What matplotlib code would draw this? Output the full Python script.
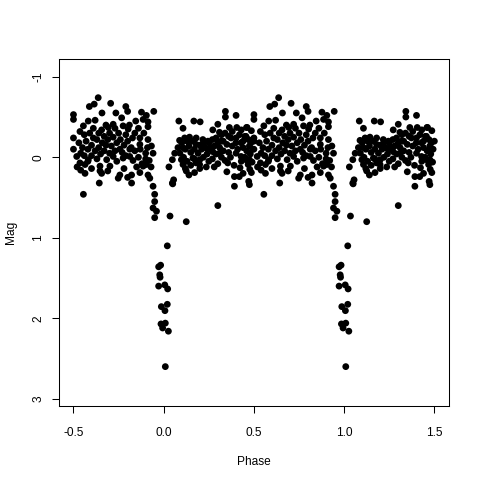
import matplotlib
matplotlib.use("Agg")
import matplotlib.pyplot as plt
import numpy as np

plt.rcParams['font.family'] = ['Liberation Sans', 'DejaVu Sans']

# phase (one cycle, -0.5..0.5) and magnitude
phase = [
    # out-of-eclipse, before primary
    -0.363, -0.412, -0.385, -0.294, -0.21, -0.20, -0.50, -0.50, -0.342, -0.265,
    -0.123, -0.055, -0.096, -0.114, -0.233, -0.155, -0.38, -0.418, -0.445, -0.087,
    -0.087, -0.464, -0.50, -0.44, -0.39, -0.344, -0.307, -0.28, -0.225, -0.197,
    -0.173, -0.132, -0.132, -0.087, -0.068, -0.059, -0.188, -0.243, -0.225, -0.188,
    -0.28, -0.316, -0.298, -0.353, -0.418, -0.464, -0.50, -0.482, -0.436, -0.436,
    -0.353, -0.344, -0.243, -0.252, -0.178, -0.178, -0.132, -0.114, -0.096, -0.087,
    -0.077, -0.357, -0.445,
    -0.47, -0.46, -0.45, -0.44, -0.43, -0.42, -0.42, -0.41, -0.40, -0.40,
    -0.39, -0.38, -0.37, -0.37, -0.36, -0.36, -0.35, -0.34, -0.33, -0.33,
    -0.32, -0.32, -0.31, -0.30, -0.30, -0.29, -0.28, -0.27, -0.27, -0.26,
    -0.26, -0.25, -0.24, -0.23, -0.22, -0.21, -0.21, -0.20, -0.19, -0.18,
    -0.17, -0.16, -0.16, -0.15, -0.14, -0.14, -0.13, -0.12, -0.11, -0.10,
    -0.10, -0.09, -0.08, -0.07, -0.48, -0.46, -0.40, -0.31, -0.22, -0.20,
    # ingress
    -0.059, -0.050, -0.050, -0.059, -0.040, -0.050,
    # eclipse bottom
    0.020, -0.017, -0.028, -0.022, -0.020, -0.028, 0.006, 0.022, -0.013, 0.020,
    0.007, -0.015, 0.009, -0.006, 0.026, 0.009,
    # egress
    0.035, 0.125, 0.050, 0.300,
    # out-of-eclipse, after primary
    0.084, 0.107, 0.167, 0.202, 0.272, 0.300, 0.309, 0.342, 0.342, 0.401,
    0.364, 0.405, 0.462, 0.061, 0.048, 0.029, 0.055, 0.048, 0.088, 0.116,
    0.143, 0.079, 0.107, 0.098, 0.107, 0.125, 0.140, 0.171, 0.162, 0.180,
    0.199, 0.236, 0.245, 0.272, 0.309, 0.180, 0.217, 0.245, 0.290, 0.318,
    0.355, 0.392, 0.419, 0.423, 0.392, 0.471, 0.475, 0.373, 0.401, 0.429,
    0.456, 0.475, 0.493, 0.475, 0.401, 0.429, 0.456, 0.468, 0.477, 0.486,
    0.459, 0.486, 0.483, 0.430, 0.450,
    0.09, 0.10, 0.11, 0.12, 0.13, 0.13, 0.14, 0.15, 0.15, 0.16,
    0.17, 0.17, 0.18, 0.19, 0.20, 0.20, 0.21, 0.22, 0.22, 0.23,
    0.24, 0.25, 0.25, 0.26, 0.27, 0.27, 0.28, 0.29, 0.30, 0.30,
    0.31, 0.32, 0.32, 0.33, 0.33, 0.34, 0.34, 0.35, 0.36, 0.36,
    0.37, 0.38, 0.38, 0.39, 0.40, 0.41, 0.42, 0.43, 0.44, 0.44,
    0.45, 0.46, 0.47, 0.48, 0.49, 0.50, 0.12, 0.20, 0.28, 0.35,
    0.44,
]
mag = [
    -0.74, -0.63, -0.66, -0.67, -0.63, -0.57, -0.53, -0.47, -0.55, -0.55,
    -0.56, -0.57, -0.52, -0.47, -0.49, -0.45, -0.46, -0.45, -0.39, -0.44,
    -0.38, -0.32, -0.24, -0.28, -0.24, -0.34, -0.37, -0.41, -0.39, -0.35,
    -0.24, -0.24, -0.16, -0.22, -0.14, -0.05, -0.10, -0.10, 0.01, -0.01,
    -0.01, 0.03, 0.11, 0.11, 0.03, 0.07, -0.10, -0.01, 0.09, 0.20,
    0.17, 0.20, 0.22, 0.26, 0.22, 0.32, 0.19, 0.11, 0.09, 0.22,
    0.26, 0.32, 0.46,
    -0.18, -0.05, -0.12, -0.02, -0.20, -0.10, 0.05, -0.30, -0.15, -0.02,
    -0.36, -0.08, -0.22, 0.02, -0.30, -0.12, -0.04, -0.18, -0.26, -0.08,
    -0.40, -0.15, -0.22, -0.30, -0.05, -0.14, -0.25, -0.36, -0.08, -0.18,
    0.05, -0.30, -0.22, -0.06, -0.15, -0.28, -0.02, -0.20, -0.40, -0.12,
    0.04, -0.30, -0.08, 0.12, -0.36, 0.00, -0.10, 0.08, -0.30, -0.05,
    0.02, -0.12, 0.04, 0.12, 0.12, 0.16, 0.14, 0.17, 0.14, 0.25,
    0.36, 0.46, 0.55, 0.63, 0.67, 0.75,
    1.10, 1.34, 1.36, 1.46, 1.49, 1.60, 1.585, 1.635, 1.855, 1.826,
    1.905, 2.07, 2.06, 2.12, 2.16, 2.60,
    0.73, 0.80, 0.33, 0.60,
    -0.45, -0.36, -0.45, -0.44, -0.34, -0.41, -0.31, -0.57, -0.50, -0.52,
    -0.37, -0.37, -0.37, -0.05, 0.03, 0.12, 0.28, 0.32, -0.21, -0.24,
    -0.25, -0.12, -0.12, 0.03, 0.09, 0.17, 0.22, 0.19, 0.01, 0.07,
    0.09, 0.12, -0.10, -0.07, -0.05, -0.16, -0.22, -0.20, -0.24, -0.20,
    0.07, 0.24, 0.24, 0.13, 0.36, 0.30, 0.34, -0.24, -0.24, -0.18,
    -0.26, -0.14, -0.10, 0.03, -0.05, -0.01, 0.03, 0.09, 0.15, 0.19,
    -0.37, -0.33, -0.18, -0.34, -0.26,
    -0.05, -0.18, 0.00, -0.10, -0.20, 0.05, -0.14, -0.06, 0.10, -0.20,
    -0.10, 0.02, -0.24, -0.05, -0.15, 0.03, -0.10, -0.18, 0.00, -0.12,
    -0.04, -0.18, 0.05, -0.12, -0.22, 0.02, -0.14, -0.04, -0.18, 0.08,
    -0.12, -0.28, 0.00, -0.20, -0.08, -0.30, 0.04, -0.16, -0.06, -0.26,
    0.00, -0.14, -0.32, 0.10, -0.18, -0.10, -0.28, 0.05, -0.12, -0.20,
    0.00, -0.08, -0.22, -0.04, 0.06, -0.20, 0.14, 0.14, 0.12, 0.18,
    0.20,
]

x_ticks = [-0.5, 0.0, 0.5, 1.0, 1.5]
x_tick_labels = ["-0.5", "0.0", "0.5", "1.0", "1.5"]
y_ticks = [-1, 0, 1, 2, 3]
y_tick_labels = ["-1", "0", "1", "2", "3"]

ph = np.array(phase)
mg = np.array(mag)
xs = np.concatenate([ph, ph + 1.0])
ys = np.concatenate([mg, mg])

fig = plt.figure(figsize=(4.8, 4.8), dpi=100)
ax = fig.add_axes([0.123, 0.154, 0.812, 0.723])
ax.scatter(xs, ys, s=24, c='black', edgecolors='none')
ax.set_xlim(-0.58, 1.58)
ax.set_ylim(3.09, -1.22)

ax.set_xticks(x_ticks)
ax.set_xticklabels(x_tick_labels)
ax.set_yticks(y_ticks)
ax.set_yticklabels(y_tick_labels, rotation=90, va='center')
ax.tick_params(axis='both', direction='out', length=5, width=0.75,
               labelsize=8.6, color='black')
ax.tick_params(axis='x', pad=10)
ax.tick_params(axis='y', pad=5.5)
for s in ax.spines.values():
    s.set_linewidth(0.75)
ax.set_xlabel("Phase", fontsize=8.6, labelpad=12)
ax.set_ylabel("Mag", fontsize=8.6, labelpad=11)

fig.savefig("out.png", dpi=100)
